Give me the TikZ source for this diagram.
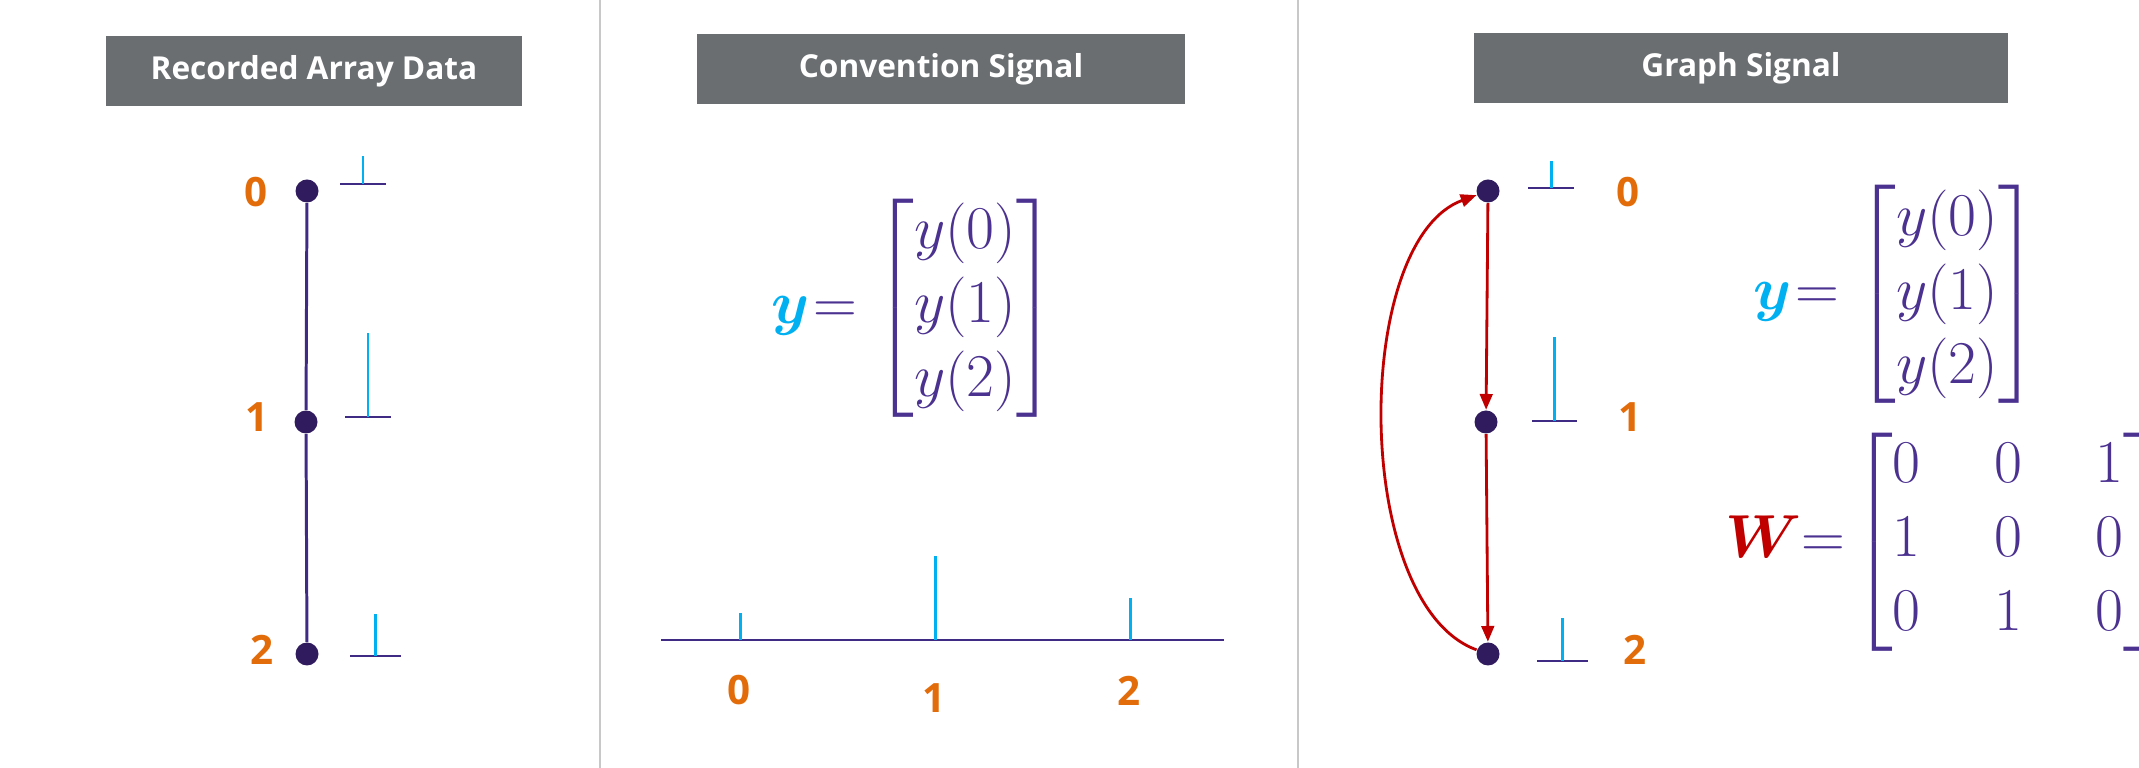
\documentclass[tikz,border=0pt]{standalone}
\usepackage[no-math]{fontspec}
\usepackage{amsmath,bm}
\usepackage{xcolor}
\usepackage{tikz}
\usetikzlibrary{positioning,arrows.meta}
\newfontfamily\uifont{Open Sans}
\definecolor{titlegray}{HTML}{6A6E71}
\definecolor{sepgray}{HTML}{C8C8C8}
\definecolor{idxorange}{HTML}{E36C0A}
\definecolor{stemcyan}{HTML}{00B0F0}
\definecolor{linepurple}{HTML}{3F2A84}
\definecolor{dotpurple}{HTML}{2F1B5E}
\definecolor{matpurple}{HTML}{4B3190}
\definecolor{edgered}{HTML}{C00000}
\tikzset{
  every node/.style={inner sep=0pt},
  titlebar/.style={
    rectangle, fill=titlegray, text=white,
    font=\uifont\bfseries\fontsize{9}{11}\selectfont,
    minimum height=0.7cm
  },
  vertex/.style={circle, fill=dotpurple, minimum size=0.23cm},
  idx/.style={text=idxorange, font=\uifont\bfseries\fontsize{11.5}{14}\selectfont},
  eqn/.style={text=matpurple, font=\fontsize{17}{21}\selectfont, anchor=west},
  redarrow/.style={
    -{Triangle[length=4.5pt,width=3.6pt]},
    line width=0.8pt, draw=edgered
  },
  divider/.style={draw=sepgray, line width=0.6pt},
  axisline/.style={draw=linepurple, line width=0.7pt},
  stemline/.style={draw=stemcyan, line width=0.85pt},
}

\begin{document}
\begin{tikzpicture}
  \clip (0,0) rectangle (21.39,7.68);
  \draw[divider] (6.00,0) -- (6.00,7.68);
  \draw[divider] (12.98,0) -- (12.98,7.68);

  % panel titles
  \node[titlebar, minimum width=4.16cm] (t1) at (3.14,6.97) {Recorded Array Data};
  \node[titlebar, minimum width=4.88cm] (t2) at (9.41,6.985) {Convention Signal};
  \node[titlebar, minimum width=5.34cm] (t3) at (17.41,7.0) {Graph Signal};

  % recorded array
  \node[vertex] (a0) at (3.07,5.77) {};
  \node[vertex] (a1) at (3.06,3.46) {};
  \node[vertex] (a2) at (3.07,1.14) {};
  \draw[linepurple, line width=0.85pt] (a0) -- (a1) -- (a2);
  \node[idx] (la0) at (2.56,5.76) {0};
  \node[idx] (la1) at (2.57,3.51) {1};
  \node[idx] (la2) at (2.62,1.18) {2};

  % signal values next to the sensors
  \foreach \x/\y/\h/\w in {3.63/5.84/0.28/0.46, 3.68/3.51/0.84/0.46, 3.755/1.12/0.42/0.51,
      15.51/5.80/0.27/0.46, 15.545/3.47/0.84/0.45, 15.625/1.07/0.43/0.51} {
    \draw[axisline] (\x-\w/2,\y) -- (\x+\w/2,\y);
    \draw[stemline] (\x,\y) -- (\x,\y+\h);
  }

  % convention signal
  \node[eqn] (yconv) at (7.71,4.60)
    {${\color{stemcyan}\bm{y}}\mskip-4mu = \begin{bmatrix} y(0)\\ y(1)\\ y(2) \end{bmatrix}$};
  \draw[axisline] (6.61,1.28) -- (12.24,1.28);
  \foreach \x/\h in {7.40/0.27, 9.35/0.84, 11.30/0.42}
    \draw[stemline] (\x,1.28) -- (\x,1.28+\h);
  \node[idx] (lc0) at (7.39,0.78) {0};
  \node[idx] (lc1) at (9.34,0.70) {1};
  \node[idx] (lc2) at (11.29,0.77) {2};

  % graph signal
  \node[vertex] (b0) at (14.88,5.77) {};
  \node[vertex] (b1) at (14.86,3.46) {};
  \node[vertex] (b2) at (14.88,1.14) {};
  \node[idx] (lb0) at (16.28,5.76) {0};
  \node[idx] (lb1) at (16.30,3.51) {1};
  \node[idx] (lb2) at (16.35,1.18) {2};
  \draw[redarrow] (b0) -- (b1);
  \draw[redarrow] (b1) -- (b2);
  \draw[redarrow] (b2) to[out=160, in=200, looseness=0.75] (b0);

  \node[eqn] (ygraph) at (17.53,4.735)
    {${\color{stemcyan}\bm{y}}\mskip-4mu = \begin{bmatrix} y(0)\\ y(1)\\ y(2) \end{bmatrix}$};
  \node[eqn] (wgraph) at (17.25,2.26)
    {${\color{edgered}\bm{W}}\mskip-5mu = \mkern-3mu \left[\begin{array}{@{}c@{\hspace{21pt}}c@{\hspace{21pt}}c@{}}
       0 & 0 & 1\\ 1 & 0 & 0\\ 0 & 1 & 0 \end{array}\right]$};
\end{tikzpicture}
\end{document}
